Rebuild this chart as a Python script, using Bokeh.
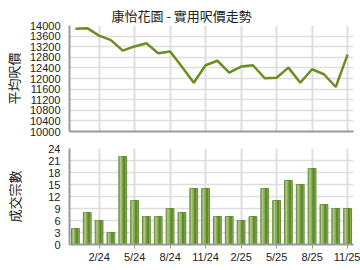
from bokeh.plotting import figure
from bokeh.layouts import column
from bokeh.models import ColumnDataSource, Range1d, FixedTicker
from bokeh.transform import dodge
from bokeh.embed import file_html
from bokeh.resources import INLINE

months = ["12/23", "1/24", "2/24", "3/24", "4/24", "5/24", "6/24", "7/24", "8/24", "9/24",
          "10/24", "11/24", "12/24", "1/25", "2/25", "3/25", "4/25", "5/25", "6/25", "7/25",
          "8/25", "9/25", "10/25", "11/25"]
avg_price = [13880, 13900, 13620, 13450, 13050, 13210, 13330, 12950, 13020, 12440,
             11840, 12500, 12670, 12220, 12450, 12500, 12010, 12030, 12410, 11840,
             12350, 12160, 11680, 12900]
deals = [4, 8, 6, 3, 22, 11, 7, 7, 9, 8, 14, 14, 7, 7, 6, 7, 14, 11, 16, 15, 19, 10, 9, 9]
tick_labels = ["2/24", "5/24", "8/24", "11/24", "2/25", "5/25", "8/25", "11/25"]
price_ticks = list(range(10000, 14001, 400))
deal_ticks = list(range(0, 25, 3))

idx = list(range(len(months)))
tick_idx = [months.index(t) for t in tick_labels]
src = ColumnDataSource(dict(x=idx, price=avg_price, deals=deals))

FONT = "Liberation Sans"
CJK = "Noto Sans CJK TC"
GRID = "#dedede"
AXIS = "#9a9a9a"

def style(p, ticks):
    p.outline_line_color = None
    p.xgrid.grid_line_color = GRID
    p.ygrid.grid_line_color = GRID
    p.xgrid.grid_line_width = 2
    p.ygrid.grid_line_width = 1.5
    p.xgrid.ticker = FixedTicker(ticks=tick_idx)
    p.yaxis.ticker = FixedTicker(ticks=ticks)
    for ax in (p.xaxis[0], p.yaxis[0]):
        ax.axis_line_color = AXIS
        ax.axis_line_width = 2
        ax.major_tick_line_color = AXIS
        ax.minor_tick_line_color = None
        ax.major_label_text_font = FONT
        ax.major_label_text_font_size = "11px"
        ax.major_label_text_color = "#222222"
        ax.axis_label_text_font = CJK
        ax.axis_label_text_font_size = "13px"
        ax.axis_label_text_font_style = "normal"
        ax.axis_label_text_color = "#222222"
    p.yaxis.major_tick_out = 0
    p.yaxis.major_tick_in = 0
    p.yaxis.major_label_standoff = 9

p1 = figure(width=360, height=138, output_backend="svg", toolbar_location=None,
            x_range=Range1d(-0.5, 23.5), y_range=Range1d(10000, 14000),
            min_border_left=68, min_border_right=7, min_border_top=25, min_border_bottom=7,
            title="康怡花園 - 實用呎價走勢")
style(p1, price_ticks)
p1.title.text_font = CJK
p1.title.text_font_size = "13px"
p1.title.text_font_style = "normal"
p1.title.text_color = "#222222"
p1.title.align = "left"
p1.title.offset = 42
p1.title.standoff = 2
p1.yaxis.axis_label = "平均呎價"
p1.yaxis.axis_label_standoff = 4
p1.xaxis.ticker = FixedTicker(ticks=[])
p1.xaxis.major_tick_out = 0
p1.xaxis.major_tick_in = 0
p1.xaxis.major_label_standoff = 0
p1.line("x", "price", source=src, line_color="#6b8e23", line_width=2.5)

p2 = figure(width=360, height=132, output_backend="svg", toolbar_location=None,
            x_range=Range1d(-0.5, 23.5), y_range=Range1d(0, 24),
            min_border_left=68, min_border_right=7, min_border_top=10, min_border_bottom=26)
style(p2, deal_ticks)
p2.xaxis.ticker = FixedTicker(ticks=tick_idx)
p2.yaxis.axis_label = "成交宗數"
p2.yaxis.axis_label_standoff = 21
p2.xaxis.major_label_overrides = {i: t for i, t in zip(tick_idx, tick_labels)}
p2.xaxis.major_tick_out = 4
p2.xaxis.major_tick_in = 0
p2.xaxis.major_label_standoff = 2
p2.vbar(x="x", top="deals", source=src, width=0.66, fill_color="#8cad5a",
        line_color="#6a8f3a", line_width=1)
p2.vbar(x=dodge("x", 0.12, range=p2.x_range), top="deals", source=src, width=0.2,
        fill_color="#5e8a2a", line_color=None)
p2.vbar(x=dodge("x", -0.18, range=p2.x_range), top="deals", source=src, width=0.12,
        fill_color="#aec88a", line_color=None)

layout = column(p1, p2, spacing=0)
open("out.html", "w").write(file_html(layout, INLINE))
